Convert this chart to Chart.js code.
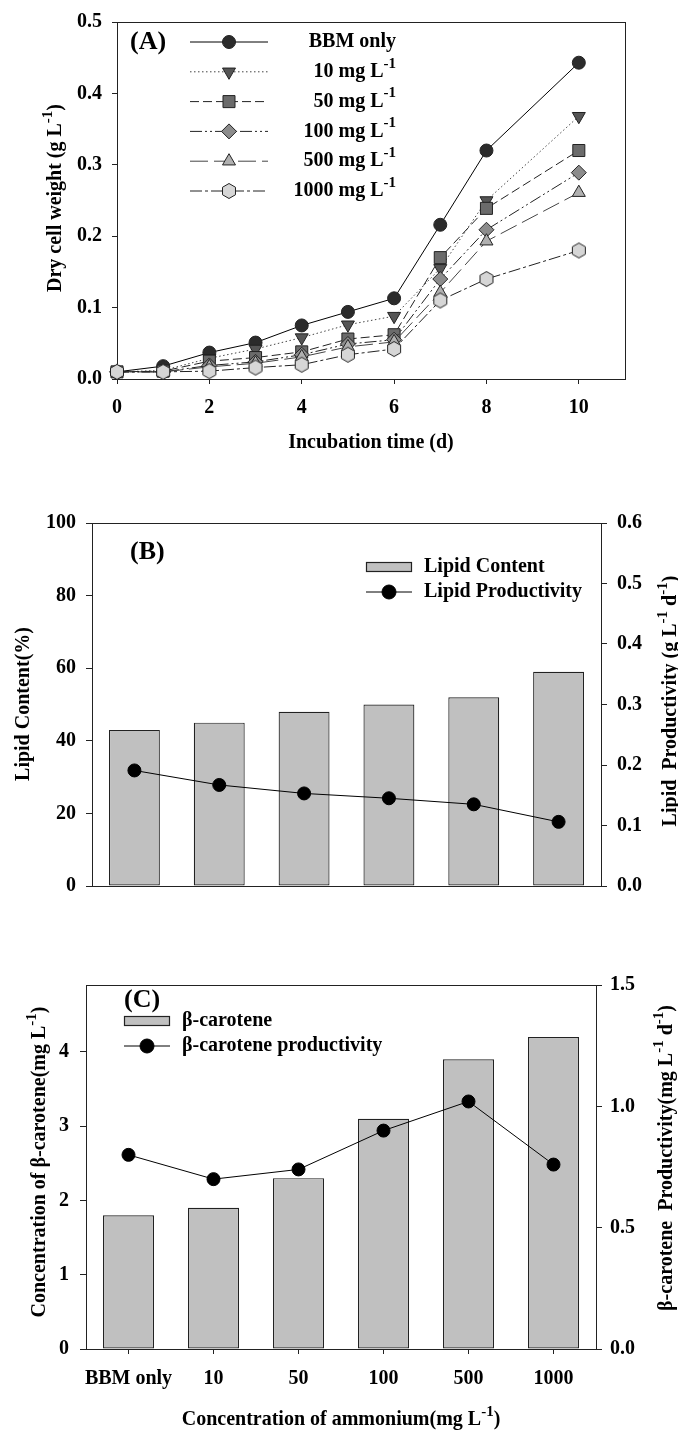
<!DOCTYPE html>
<html>
<head>
<meta charset="utf-8">
<script src="https://cdn.jsdelivr.net/npm/chart.js@4"></script>
<style>
  body { margin: 0; background: #fff; }
  #page { position: relative; width: 678px; height: 1436px; background: #fff; }
  canvas { position: absolute; left: 0; }
</style>
</head>
<body>
<div id="page">
  <canvas id="chartA" width="678" height="470" style="top:0"></canvas>
  <canvas id="chartB" width="678" height="460" style="top:470px"></canvas>
  <canvas id="chartC" width="678" height="506" style="top:930px"></canvas>
</div>
<script>
// (A) dry cell weight vs incubation time
const days = [0, 1, 2, 3, 4, 5, 6, 7, 8, 10];
const bbmOnly = [0.010, 0.018, 0.037, 0.051, 0.075, 0.094, 0.113, 0.216, 0.320, 0.443];
const nh10 = [0.010, 0.012, 0.029, 0.042, 0.058, 0.076, 0.088, 0.155, 0.250, 0.368];
const nh50 = [0.010, 0.011, 0.025, 0.030, 0.038, 0.056, 0.062, 0.170, 0.239, 0.320];
const nh100 = [0.010, 0.010, 0.019, 0.024, 0.034, 0.049, 0.055, 0.140, 0.209, 0.289];
const nh500 = [0.010, 0.010, 0.017, 0.022, 0.031, 0.045, 0.052, 0.121, 0.193, 0.261];
const nh1000 = [0.010, 0.010, 0.011, 0.016, 0.020, 0.034, 0.042, 0.110, 0.140, 0.180];
const seriesLabels = ['BBM only', '10 mg L^-1', '50 mg L^-1', '100 mg L^-1', '500 mg L^-1', '1000 mg L^-1'];
const dayTicks = [0, 2, 4, 6, 8, 10];
const dcwTicks = [0, 0.1, 0.2, 0.3, 0.4, 0.5];

// (B) and (C) share the ammonium categories
const ammonium = ['BBM only', '10', '50', '100', '500', '1000'];
const lipidContent = [43, 45, 48, 50, 52, 59];
const lipidProductivity = [0.191, 0.167, 0.153, 0.145, 0.135, 0.106];
const lipidTicks = [0, 20, 40, 60, 80, 100];
const lipidProdTicks = [0, 0.1, 0.2, 0.3, 0.4, 0.5, 0.6];

const betaCarotene = [1.8, 1.9, 2.3, 3.1, 3.9, 4.2];
const betaProductivity = [0.80, 0.70, 0.74, 0.90, 1.02, 0.76];
const betaTicks = [0, 1, 2, 3, 4];
const betaProdTicks = [0, 0.5, 1.0, 1.5];

const FONT = '"Liberation Serif", "Times New Roman", serif';
const AXIS = '#222';
Chart.defaults.font.family = FONT;
Chart.defaults.font.size = 20;
Chart.defaults.font.weight = 'bold';
Chart.defaults.color = '#000';

// hexagon marker (no built-in style for it)
function hexMarker(r, fill) {
    const c = document.createElement('canvas');
    const s = Math.ceil(r * 2 + 3);
    c.width = s; c.height = s;
    const g = c.getContext('2d');
    g.beginPath();
    for (let k = 0; k < 6; k++) {
        const a = -Math.PI / 2 + k * Math.PI / 3;
        const px = s / 2 + r * Math.cos(a), py = s / 2 + r * Math.sin(a);
        k === 0 ? g.moveTo(px, py) : g.lineTo(px, py);
    }
    g.closePath();
    g.fillStyle = fill; g.fill();
    g.strokeStyle = AXIS; g.lineWidth = 1; g.stroke();
    return c;
}

// text with ^-1 style superscripts
function richText(ctx, text, x, y, opt) {
    const size = opt.size || 20;
    const parts = text.split(/(\^-?\d+)/).filter(p => p.length);
    ctx.save();
    ctx.translate(x, y);
    ctx.rotate(opt.rot || 0);
    ctx.fillStyle = '#000';
    ctx.textBaseline = 'middle';
    ctx.textAlign = 'left';
    const segs = parts.map(p => {
        const sup = p[0] === '^';
        const t = sup ? p.slice(1) : p;
        const fs = sup ? Math.round(size * 0.75) : size;
        ctx.font = `bold ${fs}px ${FONT}`;
        return { t, sup, fs, w: ctx.measureText(t).width };
    });
    const total = segs.reduce((a, s) => a + s.w, 0);
    let cx = opt.align === 'right' ? -total : opt.align === 'left' ? 0 : -total / 2;
    segs.forEach(s => {
        ctx.font = `bold ${s.fs}px ${FONT}`;
        ctx.fillText(s.t, cx, s.sup ? -size * 0.4 : 0);
        cx += s.w;
    });
    ctx.restore();
}

function drawMarker(ctx, ds, x, y) {
    const st = ds.pointStyle, r = ds.pointRadius;
    ctx.save();
    ctx.setLineDash([]);
    if (st instanceof HTMLCanvasElement) {
        ctx.drawImage(st, x - st.width / 2, y - st.height / 2);
        ctx.restore();
        return;
    }
    ctx.fillStyle = ds.pointBackgroundColor;
    ctx.strokeStyle = ds.pointBorderColor;
    ctx.lineWidth = ds.pointBorderWidth || 1;
    ctx.beginPath();
    if (st === 'triangle') {
        let rad = (ds.pointRotation || 0) * Math.PI / 180;
        for (let k = 0; k < 3; k++) {
            const px = x + Math.sin(rad) * r, py = y - Math.cos(rad) * r;
            k === 0 ? ctx.moveTo(px, py) : ctx.lineTo(px, py);
            rad += 2 * Math.PI / 3;
        }
    } else if (st === 'rect') {
        const s = r * Math.SQRT1_2;
        ctx.rect(x - s, y - s, 2 * s, 2 * s);
    } else if (st === 'rectRot') {
        ctx.moveTo(x, y - r); ctx.lineTo(x + r, y); ctx.lineTo(x, y + r); ctx.lineTo(x - r, y);
    } else {
        ctx.arc(x, y, r, 0, Math.PI * 2);
    }
    ctx.closePath();
    ctx.fill();
    ctx.stroke();
    ctx.restore();
}

function axisStyle(tl) {
    return {
        grid: { drawOnChartArea: false, drawTicks: true, tickLength: tl, color: AXIS, lineWidth: 1 },
        border: { display: true, color: AXIS, width: 1 }
    };
}
const fixTicks = values => scale => { scale.ticks = values.map(v => ({ value: v })); };

const frame = {
    id: 'frame',
    beforeDatasetsDraw(chart) {
        const { ctx, chartArea: a } = chart;
        ctx.save();
        ctx.strokeStyle = AXIS;
        ctx.lineWidth = 1;
        ctx.strokeRect(Math.round(a.left) + 0.5, Math.round(a.top) + 0.5, Math.round(a.right - a.left), Math.round(a.bottom - a.top));
        ctx.restore();
    }
};
const titles = items => ({
    id: 'titles',
    afterDraw(chart) {
        items.forEach(it => richText(chart.ctx, it.text, it.x, it.y, it));
    }
});

const common = {
    responsive: false,
    animation: false,
    devicePixelRatio: 1,
    events: [],
    plugins: { legend: { display: false }, tooltip: { enabled: false } }
};

// ---------- (A) ----------
const seriesA = [
    { data: bbmOnly, style: 'circle', r: 6.5, fill: '#2b2b2b', dash: [], line: '#000' },
    { data: nh10, style: 'triangle', rot: 180, r: 7.5, fill: '#555555', dash: [1.5, 2.5], line: '#444' },
    { data: nh50, style: 'rect', r: 8.5, fill: '#6b6b6b', dash: [9, 4], line: '#222' },
    { data: nh100, style: 'rectRot', r: 7.5, fill: '#8c8c8c', dash: [12, 3, 2, 3, 2, 3], line: '#222' },
    { data: nh500, style: 'triangle', rot: 0, r: 7.5, fill: '#b0b0b0', dash: [18, 6], line: '#444' },
    { data: nh1000, style: hexMarker(7.5, '#d6d6d6'), r: 7.5, fill: '#d6d6d6', dash: [12, 3, 3, 3], line: '#222' }
];

const legendA = {
    id: 'legendA',
    afterDraw(chart) {
        const ctx = chart.ctx;
        chart.data.datasets.forEach((ds, i) => {
            const y = 42 + i * 29.8;
            ctx.save();
            ctx.strokeStyle = ds.borderColor;
            ctx.lineWidth = 1;
            ctx.setLineDash(ds.borderDash);
            ctx.beginPath();
            ctx.moveTo(190, y); ctx.lineTo(268, y);
            ctx.stroke();
            ctx.restore();
            drawMarker(ctx, ds, 229, y);
            richText(ctx, seriesLabels[i], 396, y, { align: 'right', size: 20 });
        });
        richText(ctx, '(A)', 130, 42, { align: 'left', size: 26 });
    }
};

new Chart(document.getElementById('chartA'), {
    type: 'line',
    data: {
        datasets: seriesA.map((s, i) => ({
            label: seriesLabels[i],
            data: days.map((d, k) => ({ x: d, y: s.data[k] })),
            borderColor: s.line,
            borderWidth: 1,
            borderDash: s.dash,
            pointStyle: s.style,
            pointRotation: s.rot || 0,
            pointRadius: s.r,
            pointBackgroundColor: s.fill,
            pointBorderColor: AXIS,
            pointBorderWidth: 1,
            tension: 0,
            clip: false,
            order: seriesA.length - i   // later series sit on top, like the original
        }))
    },
    options: {
        ...common,
        layout: { padding: { top: 17, right: 53, bottom: 0, left: 0 } },
        scales: {
            x: {
                type: 'linear', min: 0, max: 11,
                ...axisStyle(5),
                afterBuildTicks: fixTicks(dayTicks),
                afterFit: s => { s.height = 91; },
                ticks: { padding: 12, maxRotation: 0, autoSkip: false, callback: v => String(v) }
            },
            y: {
                min: 0, max: 0.5,
                ...axisStyle(5),
                afterBuildTicks: fixTicks(dcwTicks),
                afterFit: s => { s.width = 117; },
                ticks: { padding: 10, callback: v => v.toFixed(1) }
            }
        }
    },
    plugins: [frame, legendA, titles([
        { text: 'Dry cell weight (g L^-1)', x: 56, y: 198, rot: -Math.PI / 2, size: 20 },
        { text: 'Incubation time (d)', x: 371, y: 443, size: 20 }
    ])]
});

// ---------- legend for the bar + line panels ----------
const legendBars = (x0, y0, tag) => ({
    id: 'legendBars',
    afterDraw(chart) {
        const ctx = chart.ctx;
        const [bar, line] = chart.data.datasets;
        ctx.save();
        ctx.fillStyle = bar.backgroundColor;
        ctx.strokeStyle = bar.borderColor;
        ctx.lineWidth = 1.2;
        ctx.fillRect(x0, y0 - 5, 46, 10);
        ctx.strokeRect(x0 + 0.5, y0 - 5 + 0.5, 45, 9);
        ctx.strokeStyle = line.borderColor;
        ctx.lineWidth = 1;
        ctx.beginPath();
        ctx.moveTo(x0, y0 + 25); ctx.lineTo(x0 + 46, y0 + 25);
        ctx.stroke();
        ctx.restore();
        drawMarker(ctx, { pointStyle: 'circle', pointRadius: 7, pointBackgroundColor: '#000', pointBorderColor: '#000' }, x0 + 23, y0 + 25);
        richText(ctx, bar.label, x0 + 58, y0, { align: 'left', size: 20 });
        richText(ctx, line.label, x0 + 58, y0 + 25, { align: 'left', size: 20 });
        richText(ctx, tag.text, tag.x, tag.y, { align: 'left', size: 26 });
    }
});

// ---------- (B) ----------
new Chart(document.getElementById('chartB'), {
    type: 'bar',
    data: {
        labels: ammonium,
        datasets: [
            { type: 'bar', label: 'Lipid Content', data: lipidContent, backgroundColor: '#c0c0c0', borderColor: AXIS, borderWidth: 1.2, borderSkipped: false, barPercentage: 0.6, categoryPercentage: 1, yAxisID: 'y', order: 2 },
            { type: 'line', label: 'Lipid Productivity', data: lipidProductivity, borderColor: '#000', borderWidth: 1, pointRadius: 6.5, pointBackgroundColor: '#000', pointBorderColor: '#000', yAxisID: 'y2', order: 1, clip: false }
        ]
    },
    options: {
        ...common,
        layout: { padding: { top: 53, right: 0, bottom: 0, left: 0 } },
        scales: {
            x: {
                grid: { drawOnChartArea: false, drawTicks: false, color: AXIS },
                border: { display: true, color: AXIS, width: 1 },
                ticks: { display: false },
                afterFit: s => { s.height = 44; }
            },
            y: {
                position: 'left', min: 0, max: 100,
                ...axisStyle(6),
                afterBuildTicks: fixTicks(lipidTicks),
                afterFit: s => { s.width = 92; },
                ticks: { padding: 10 }
            },
            y2: {
                position: 'right', min: 0, max: 0.6,
                ...axisStyle(6),
                afterBuildTicks: fixTicks(lipidProdTicks),
                afterFit: s => { s.width = 77; },
                ticks: { padding: 10, callback: v => v.toFixed(1) }
            }
        }
    },
    plugins: [frame, legendBars(366, 97, { text: '(B)', x: 130, y: 82 }), titles([
        { text: 'Lipid Content(%)', x: 24, y: 234, rot: -Math.PI / 2, size: 20 },
        { text: 'Lipid  Productivity (g L^-1 d^-1)', x: 671, y: 231, rot: -Math.PI / 2, size: 20 }
    ])]
});

// ---------- (C) ----------
new Chart(document.getElementById('chartC'), {
    type: 'bar',
    data: {
        labels: ammonium,
        datasets: [
            { type: 'bar', label: 'β-carotene', data: betaCarotene, backgroundColor: '#c0c0c0', borderColor: AXIS, borderWidth: 1.2, borderSkipped: false, barPercentage: 0.6, categoryPercentage: 1, yAxisID: 'y', order: 2 },
            { type: 'line', label: 'β-carotene productivity', data: betaProductivity, borderColor: '#000', borderWidth: 1, pointRadius: 6.5, pointBackgroundColor: '#000', pointBorderColor: '#000', yAxisID: 'y2', order: 1, clip: false }
        ]
    },
    options: {
        ...common,
        layout: { padding: { top: 55, right: 0, bottom: 0, left: 0 } },
        scales: {
            x: {
                grid: { drawOnChartArea: false, drawTicks: true, tickLength: 5, color: AXIS, offset: false },
                border: { display: true, color: AXIS, width: 1 },
                ticks: { padding: 13, maxRotation: 0, autoSkip: false },
                afterFit: s => { s.height = 87; }
            },
            y: {
                position: 'left', min: 0, max: 4.9,
                ...axisStyle(6),
                afterBuildTicks: fixTicks(betaTicks),
                afterFit: s => { s.width = 86; },
                ticks: { padding: 11 }
            },
            y2: {
                position: 'right', min: 0, max: 1.5,
                ...axisStyle(6),
                afterBuildTicks: fixTicks(betaProdTicks),
                afterFit: s => { s.width = 82; },
                ticks: { padding: 8, callback: v => v.toFixed(1) }
            }
        }
    },
    plugins: [frame, legendBars(124, 91, { text: '(C)', x: 124, y: 70 }), titles([
        { text: 'Concentration of β-carotene(mg L^-1)', x: 40, y: 232, rot: -Math.PI / 2, size: 20 },
        { text: 'β-carotene  Productivity(mg L^-1 d^-1)', x: 667, y: 228, rot: -Math.PI / 2, size: 20 },
        { text: 'Concentration of ammonium(mg L^-1)', x: 341, y: 490, size: 20 }
    ])]
});
</script>
</body>
</html>
